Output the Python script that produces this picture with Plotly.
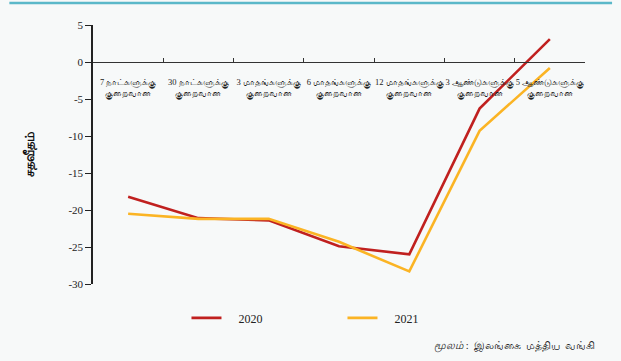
import plotly.graph_objects as go

categories = ["7d", "30d", "3m", "6m", "12m", "3y", "5y"]
tick_labels = [
    "7 நாட்களுக்கு<br>குறைவான",
    "30 நாட்களுக்கு<br>குறைவான",
    "3 மாதங்களுக்கு<br>குறைவான",
    "6 மாதங்களுக்கு<br>குறைவான",
    "12 மாதங்களுக்கு<br>குறைவான",
    "3 ஆண்டுகளுக்கு<br>குறைவான",
    "5 ஆண்டுகளுக்கு<br>குறைவான",
]
series_names = ["2020", "2021"]
values_2020 = [-18.2, -21.1, -21.4, -24.9, -26.0, -6.3, 3.1]
values_2021 = [-20.5, -21.2, -21.2, -24.3, -28.3, -9.3, -0.8]
y_ticks = [5, 0, -5, -10, -15, -20, -25, -30]

RED = "#c0201f"
YEL = "#fbb424"
BG = "#f7f9f9"
FONT = "Liberation Serif, serif"
PAD = "\u2002\u2002"

fig = go.Figure()
fig.add_trace(go.Scatter(x=categories, y=values_2020, mode="lines", name=PAD + series_names[0],
                         line=dict(color=RED, width=2.6)))
fig.add_trace(go.Scatter(x=categories, y=values_2021, mode="lines", name=PAD + series_names[1],
                         line=dict(color=YEL, width=2.6)))

ymin, ymax = -30, 5
fig.update_layout(
    width=621, height=361,
    margin=dict(l=93, r=36, t=25, b=77),
    paper_bgcolor=BG, plot_bgcolor=BG,
    font=dict(family=FONT, size=11, color="#222"),
    xaxis=dict(
        type="category", range=[-0.5, 6.5],
        tickvals=categories, ticktext=tick_labels, tickangle=0,
        tickson="boundaries", ticks="inside", ticklen=4, tickcolor="#333",
        showline=True, linecolor="#333", linewidth=1,
        showgrid=False, zeroline=False, automargin=False,
        anchor="free", position=(0 - ymin) / (ymax - ymin),
        tickfont=dict(size=8.5, family=FONT, color="#222"),
        ticklabelstandoff=12,
        fixedrange=True,
    ),
    yaxis=dict(
        range=[ymin, ymax], automargin=False,
        tickvals=y_ticks, ticktext=[str(v) for v in y_ticks],
        ticks="outside", ticklen=6, tickcolor="#222",
        showline=True, linecolor="#222", linewidth=1.5,
        showgrid=False, zeroline=False,
        tickfont=dict(size=11, family=FONT, color="#222"),
        title=dict(text="<b>சதவீதம்</b>", font=dict(size=13, family=FONT, color="#111"), standoff=31),
    ),
    legend=dict(
        orientation="h", x=0.19, xanchor="left", y=-0.075, yanchor="top",
        entrywidth=111, entrywidthmode="pixels",
        font=dict(size=12, family=FONT, color="#222"),
        bgcolor="rgba(0,0,0,0)",
    ),
    shapes=[dict(type="line", xref="paper", yref="paper",
                 x0=-0.17, x1=1.055, y0=1.085, y1=1.085,
                 line=dict(color="#5bb8c9", width=2.5))],
    annotations=[dict(
        text="<i>மூலம்</i> :  இலங்கை  மத்திய  வங்கி",
        xref="paper", yref="paper", x=1.025, y=-0.243,
        xanchor="right", yanchor="middle", showarrow=False,
        font=dict(size=10.5, family=FONT, color="#222"),
    )],
)

fig.write_html(
    "out.html",
    config={"displayModeBar": False},
    post_script="document.body.style.margin='0';document.body.style.background='#f7f9f9';",
)
